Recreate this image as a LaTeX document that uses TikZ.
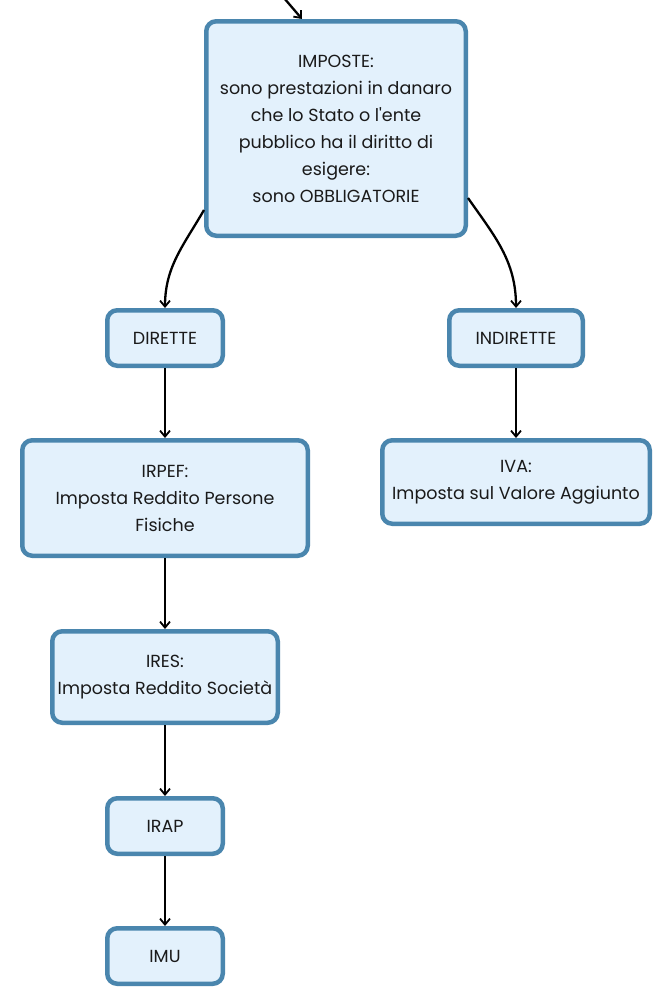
\documentclass[tikz,border=0pt]{standalone}
\usepackage{fontspec}
\setmainfont{Poppins}[Ligatures=TeXOff]
\usetikzlibrary{arrows.meta}
\definecolor{boxborder}{HTML}{4A86AE}
\definecolor{boxfill}{HTML}{E3F1FC}
\definecolor{txt}{HTML}{1A1A1A}
\tikzset{
  box/.style={draw=boxborder, fill=boxfill, line width=4.5pt, rounded corners=10pt,
    align=center, inner sep=0pt, text=txt, font=\fontsize{17.5}{27}\selectfont},
  arr/.style={draw=black, line width=2.3pt, -{Straight Barb[length=6pt,width=10pt,line width=1.8pt]}}
}
\begin{document}
\begin{tikzpicture}[x=1pt,y=-1pt]
\fill[white] (0,0) rectangle (672,1007);
\useasboundingbox (0,0) rectangle (672,1007);
\node[box, minimum width=259.5pt, minimum height=214.5pt] (imp) at (336,128.5)
  {IMPOSTE:\\sono prestazioni in danaro\\che lo Stato o l'ente\\pubblico ha il diritto di\\esigere:\\sono OBBLIGATORIE};
\node[box, minimum width=115.5pt, minimum height=55.5pt] (dir) at (165,338) {DIRETTE};
\node[box, minimum width=133.5pt, minimum height=55.5pt] (ind) at (516,338) {INDIRETTE};
\node[box, minimum width=285.5pt, minimum height=115.5pt] (irpef) at (165,498)
  {IRPEF:\\Imposta Reddito Persone\\Fisiche};
\node[box, minimum width=267.5pt, minimum height=83.5pt] (iva) at (516,482)
  {IVA:\\Imposta sul Valore Aggiunto};
\node[box, minimum width=225.5pt, minimum height=91.5pt] (ires) at (165,677)
  {IRES:\\Imposta Reddito Società};
\node[box, minimum width=115.5pt, minimum height=55.5pt] (irap) at (165,826) {IRAP};
\node[box, minimum width=115.5pt, minimum height=55.5pt] (imu) at (165,956) {IMU};
\coordinate (top) at (284,-2);
\draw[arr] (top) -- ([xshift=-34pt]imp.north);
\draw[arr] ([yshift=-81.5pt]imp.west) to[out=240,in=90] (dir.north);
\draw[arr] ([yshift=-69.5pt]imp.east) to[out=-55,in=90] (ind.north);
\draw[arr] (dir.south) -- (irpef.north);
\draw[arr] (ind.south) -- (iva.north);
\draw[arr] (irpef.south) -- (ires.north);
\draw[arr] (ires.south) -- (irap.north);
\draw[arr] (irap.south) -- (imu.north);
\end{tikzpicture}
\end{document}
